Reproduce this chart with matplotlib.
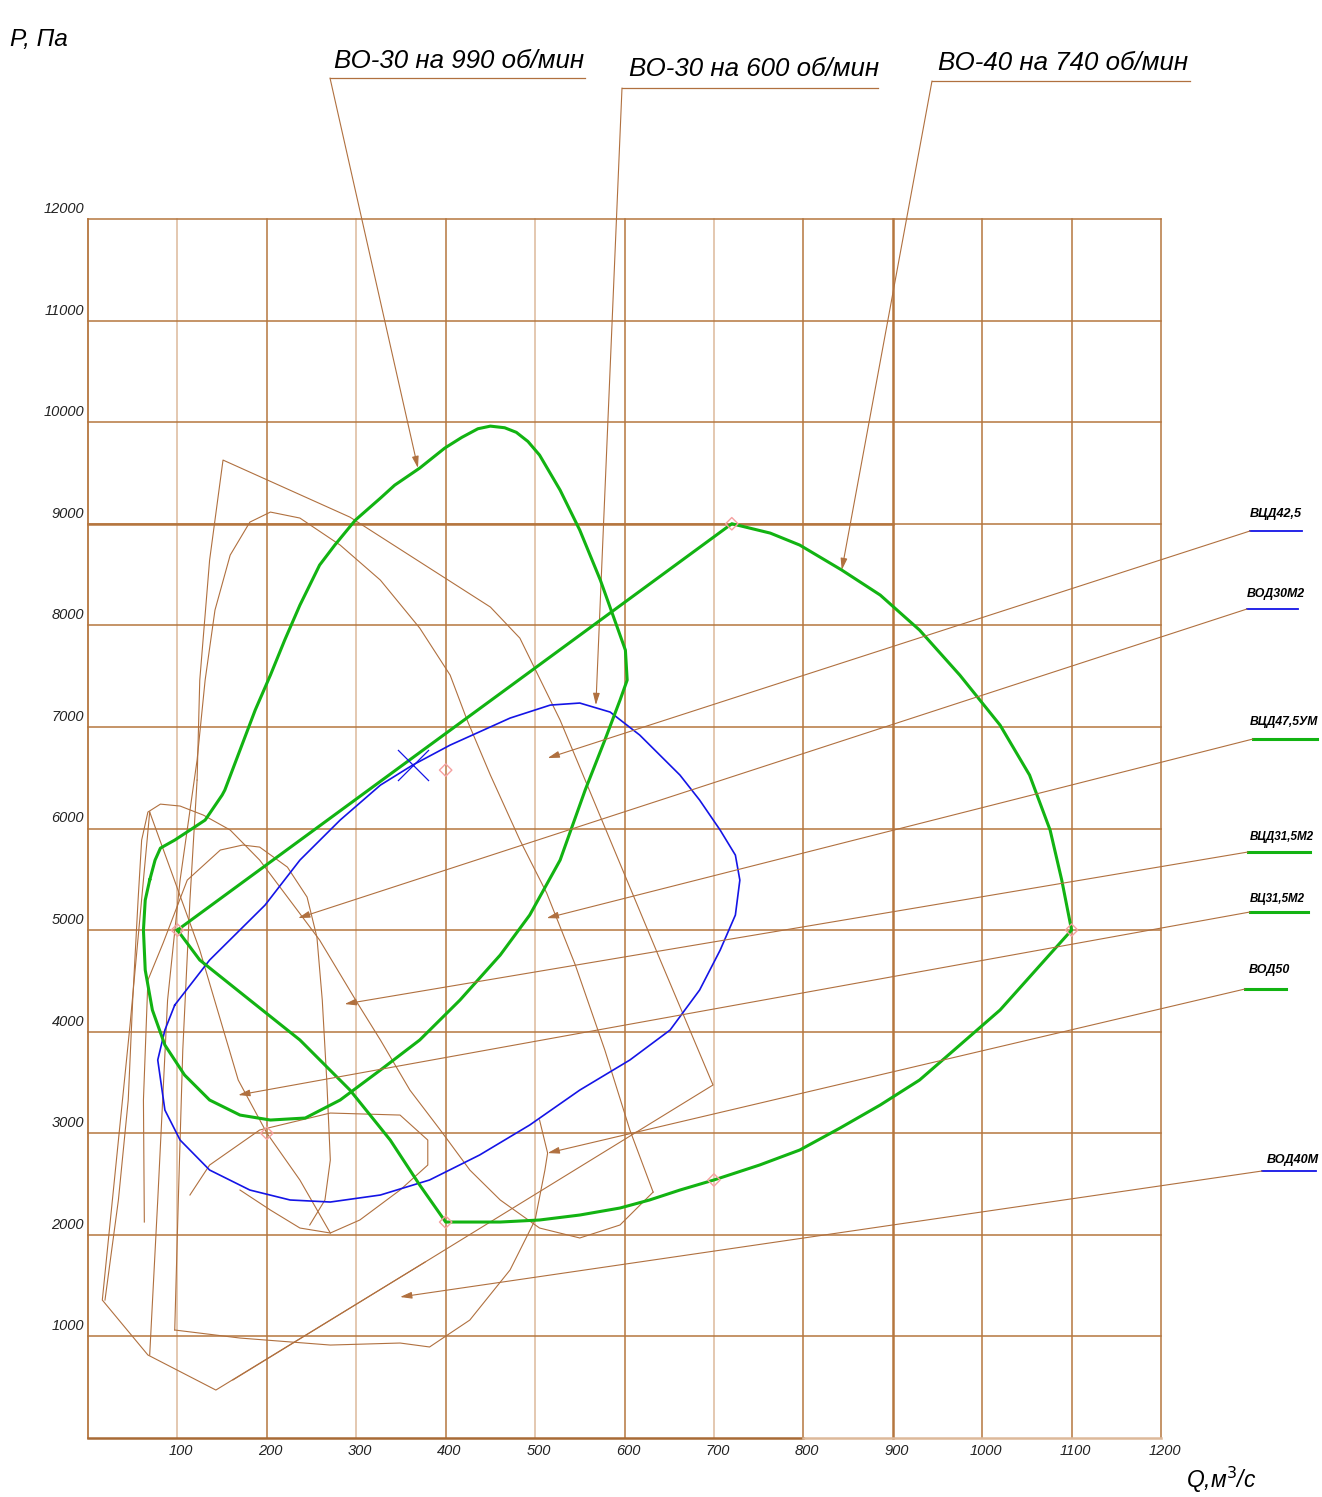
import matplotlib.pyplot as plt
import numpy as np


# grid / axis ticks
Q_TICKS = [100, 200, 300, 400, 500, 600, 700, 800, 900, 1000, 1100, 1200]
P_TICKS = [1000, 2000, 3000, 4000, 5000, 6000, 7000, 8000, 9000, 10000, 11000, 12000]

# ВЦД47,5УМ (ВО-30 на 990 об/мин), Q m3/s vs P Pa
VCD475_Q = [69, 64, 62, 64, 72, 86, 108, 136, 170, 204, 243, 282, 327, 371, 416, 461,
            494, 528, 556, 578, 595, 603, 601, 589, 573, 550, 528, 505, 492, 479, 466, 450,
            436, 418, 399, 371, 343, 327, 299, 276, 259, 237, 220, 204, 187, 170, 153, 150,
            131, 114, 97, 81, 75, 69]
VCD475_P = [5492, 5295, 5000, 4607, 4213, 3868, 3573, 3327, 3179, 3130, 3150, 3327, 3622,
            3918, 4311, 4754, 5148, 5689, 6378, 6870, 7264, 7461, 7756, 8052, 8445, 8937,
            9331, 9676, 9810, 9900, 9945, 9961, 9935, 9850, 9745, 9548, 9380, 9252, 9036,
            8790, 8593, 8199, 7855, 7510, 7166, 6772, 6378, 6329, 6083, 5984, 5886, 5807,
            5689, 5492]

# ВОД50 (ВО-40 на 740 об/мин)
VOD50_Q = [100, 300, 500, 720, 763, 796, 843, 886, 930, 975, 1020, 1053, 1076, 1089, 1100,
           1065, 1020, 975, 930, 886, 841, 796, 751, 700, 662, 628, 595, 550, 505, 461, 400,
           371, 338, 293, 237, 181, 125, 100]
VOD50_P = [5000, 6290, 7580, 9000, 8908, 8790, 8544, 8298, 7953, 7510, 7018, 6526, 5984,
           5492, 5000, 4656, 4213, 3868, 3524, 3278, 3051, 2835, 2687, 2540, 2441, 2343,
           2264, 2195, 2146, 2126, 2126, 2490, 2933, 3425, 3918, 4311, 4705, 5000]

# ВЦД42,5 (ВО-30 на 600 об/мин)
VCD425_Q = [97, 136, 198, 237, 282, 327, 363, 405, 472, 517, 550, 584, 617, 662, 684, 707,
            724, 729, 724, 707, 684, 651, 606, 550, 494, 438, 382, 327, 271, 226, 181, 136,
            103, 86, 78, 86, 97]
VCD425_P = [4262, 4705, 5246, 5689, 6083, 6427, 6624, 6821, 7087, 7215, 7235, 7146, 6920,
            6526, 6280, 5984, 5738, 5492, 5148, 4803, 4410, 4016, 3721, 3425, 3081, 2786,
            2540, 2392, 2323, 2343, 2441, 2638, 2933, 3228, 3721, 4016, 4262]

# operating point and reference points
WORK_Q, WORK_P = 363, 6624
REF_Q = [100, 720, 400, 200, 700, 400, 1100]
REF_P = [5000, 9000, 6575, 3000, 2540, 2126, 5000]

# other fan characteristics (thin brown)
BROWN_CURVES = [
    # polygon
    ([122, 125, 136, 151, 293, 382, 450, 483, 528, 584, 640, 699, 377, 162],
     [6477, 7461, 8642, 9627, 9065, 8563, 8180, 7874, 7067, 5886, 4705, 3475, 1732, 571]),
    ([122, 114, 106, 101, 97],
     [6477, 5295, 3819, 2343, 1063]),
    # tall arc
    ([69, 78, 89, 103, 122, 131, 142, 159, 181, 204, 237, 282, 327, 371, 405, 424, 450,
      483, 513, 545, 578, 606, 632],
     [817, 2343, 4311, 5492, 6674, 7461, 8150, 8691, 9016, 9115, 9056, 8790, 8445, 7973,
      7510, 7067, 6526, 5886, 5364, 4656, 3819, 3032, 2421]),
    # wide arc
    ([19, 34, 45, 50, 56, 60, 67, 81, 103, 129, 159, 192, 234, 259, 302, 327, 360, 394,
      427, 461, 505, 550, 595, 632],
     [1358, 2343, 3327, 4311, 5295, 5886, 6162, 6240, 6221, 6132, 5985, 5689, 5197, 4902,
      4272, 3918, 3425, 3032, 2638, 2343, 2067, 1969, 2097, 2421]),
    # small arc
    ([63, 62, 67, 84, 111, 148, 173, 192, 223, 245, 256, 262, 267, 271, 265, 248],
     [2126, 3327, 4508, 4872, 5492, 5788, 5837, 5817, 5620, 5325, 4931, 4311, 3524, 2736,
      2343, 2097]),
    # lower loop
    ([114, 136, 192, 271, 349, 380, 380, 349, 304, 271, 237, 204, 170],
     [2392, 2687, 3032, 3199, 3179, 2933, 2687, 2441, 2146, 2018, 2067, 2244, 2441]),
    # bottom curve
    ([97, 170, 271, 349, 382, 427, 472, 500, 511, 514, 505],
     [1063, 984, 915, 935, 896, 1161, 1654, 2146, 2638, 2805, 3130]),
    # straight chords
    ([69, 47, 16, 67, 143, 377],
     [6162, 4065, 1358, 817, 472, 1732]),
    ([69, 125, 168, 200, 237, 271],
     [6162, 4803, 3524, 3002, 2539, 2018]),
]

LEGEND_NAMES = ["ВЦД42,5", "ВОД30М2", "ВЦД47,5УМ", "ВЦД31,5М2", "ВЦ31,5М2", "ВОД50", "ВОД40М"]
LEGEND_COLORS = ["blue", "blue", "green", "green", "green", "green", "blue"]
LEGEND_TARGET_Q = [514, 235, 513, 287, 168, 514, 349]
LEGEND_TARGET_P = [6693, 5118, 5118, 4272, 3376, 2805, 1388]

TOP_LABELS = ["ВО-30 на 990 об/мин", "ВО-30 на 600 об/мин", "ВО-40 на 740 об/мин"]
TOP_TARGET_Q = [369, 568, 843]
TOP_TARGET_P = [9548, 7215, 8544]

GRID_C = "#b5763f"
GRID_LIGHT = "#ddb99b"
BROWN = "#b0703f"
GREEN = "#12b312"
BLUE = "#1414e6"
FONT = ["Liberation Sans", "DejaVu Sans"]

# sheet layout in pixels
W, H = 1322, 1497
PX0, PX1 = 88, 1161
PY0, PY1 = 1438, 219

# right-hand labels: text left, text baseline, sample line start/end x, sample line y, text width
LEG_TEXT_X = [1250, 1247, 1250, 1250, 1250, 1249, 1267]
LEG_TEXT_Y = [517, 597, 725, 840, 902, 973, 1163]
LEG_LINE_X0 = [1250, 1247, 1253, 1248, 1250, 1245, 1262]
LEG_LINE_X1 = [1302, 1298, 1317, 1310, 1308, 1286, 1316]
LEG_LINE_Y = [531, 609, 739, 852, 912, 989, 1171]
LEG_TEXT_W = [52, 58, 68, 64, 55, 41, 52]

TOP_TEXT_X = [334, 629, 938]
TOP_TEXT_Y = [68, 76, 70]
TOP_LINE_X0 = [330, 622, 932]
TOP_LINE_X1 = [585, 878, 1190]
TOP_LINE_Y = [78, 88, 81]


def dx(px):
    return (px - PX0) / (PX1 - PX0) * 1200


def dy(py):
    return (PY0 - py) / (PY0 - PY1) * 12000


def fit_width(t, width_px, renderer):
    bb = t.get_window_extent(renderer)
    t.set_fontsize(t.get_fontsize() * width_px / bb.width)


def main():
    fig = plt.figure(figsize=(W / 100, H / 100), dpi=100)
    ax = fig.add_axes([0, 0, 1, 1])
    ax.set_xlim(dx(0), dx(W))
    ax.set_ylim(dy(H), dy(0))
    ax.axis("off")
    renderer = fig.canvas.get_renderer()

    # grid
    for i, q in enumerate(Q_TICKS):
        c = GRID_LIGHT if i % 2 == 0 and q < 800 else GRID_C
        lw = 1.8 if q == 900 else 1.1
        ax.plot([q, q], [0, 12000], color=c, lw=lw, zorder=1)
        ax.text(q + 4, dy(1444), str(q), ha="center", va="top", fontsize=10.5,
                style="italic", family=FONT, color="#222222")
    for p in P_TICKS:
        ax.plot([0, 1200], [p, p], color=GRID_C, lw=1.1, zorder=1)
        ax.text(dx(84), p + 30, str(p), ha="right", va="bottom", fontsize=10.5,
                style="italic", family=FONT, color="#222222")
    ax.plot([0, 900], [9000, 9000], color=GRID_C, lw=1.8, zorder=1)
    ax.plot([0, 0], [0, 12000], color=GRID_C, lw=1.3, zorder=1)
    ax.plot([0, 800], [0, 0], color="#a86a35", lw=1.8, zorder=1)
    ax.plot([800, 1200], [0, 0], color=GRID_LIGHT, lw=1.8, zorder=1)

    for qs, ps in BROWN_CURVES:
        ax.plot(qs, ps, color=BROWN, lw=0.8, zorder=2, solid_joinstyle="round")

    ax.plot(VCD425_Q, VCD425_P, color=BLUE, lw=1.2, zorder=3, solid_joinstyle="round")
    ax.plot(VCD475_Q, VCD475_P, color=GREEN, lw=2.2, zorder=4, solid_joinstyle="round")
    ax.plot(VOD50_Q, VOD50_P, color=GREEN, lw=2.2, zorder=4, solid_joinstyle="round")

    ax.scatter(REF_Q, REF_P, marker="D", s=40, facecolor="none", edgecolor="#f5a0a0",
               lw=1.0, zorder=5)
    ax.scatter([WORK_Q], [WORK_P], marker="x", s=500, color=BLUE, lw=0.9, zorder=6)

    arrow = dict(arrowstyle="-|>,head_length=0.7,head_width=0.2", color=BROWN, lw=0.8,
                 shrinkA=0, shrinkB=0)

    # labels on the right with leaders
    for i, name in enumerate(LEGEND_NAMES):
        lc = BLUE if LEGEND_COLORS[i] == "blue" else GREEN
        lw = 1.3 if LEGEND_COLORS[i] == "blue" else 2.2
        x0, x1, y = dx(LEG_LINE_X0[i]), dx(LEG_LINE_X1[i]), dy(LEG_LINE_Y[i])
        ax.plot([x0, x1], [y, y], color=lc, lw=lw, zorder=5)
        t = ax.text(dx(LEG_TEXT_X[i]), dy(LEG_TEXT_Y[i]), name, ha="left", va="baseline",
                    fontsize=12, style="italic", weight="bold", family=FONT, color="black")
        fit_width(t, LEG_TEXT_W[i], renderer)
        ax.annotate("", xy=(LEGEND_TARGET_Q[i], LEGEND_TARGET_P[i]), xytext=(x0, y),
                    arrowprops=arrow, zorder=5)

    # labels on top
    for i, text in enumerate(TOP_LABELS):
        x0, x1, y = dx(TOP_LINE_X0[i]), dx(TOP_LINE_X1[i]), dy(TOP_LINE_Y[i])
        ax.plot([x0, x1], [y, y], color=BROWN, lw=0.9)
        t = ax.text(dx(TOP_TEXT_X[i]), dy(TOP_TEXT_Y[i]), text, ha="left", va="baseline",
                    fontsize=20, style="italic", family=FONT, color="black")
        fit_width(t, 250, renderer)
        ax.annotate("", xy=(TOP_TARGET_Q[i], TOP_TARGET_P[i]), xytext=(x0, y),
                    arrowprops=arrow)

    t = ax.text(dx(10), dy(46), "P, Па", ha="left", va="baseline", fontsize=20,
                style="italic", family=FONT)
    fit_width(t, 58, renderer)
    t = ax.text(dx(1186), dy(1488), "Q,м$^3$/с", ha="left", va="baseline", fontsize=20,
                style="italic", family=FONT)
    fit_width(t, 70, renderer)

    fig.savefig("out.png", dpi=100)
    plt.close(fig)


if __name__ == "__main__":
    main()
